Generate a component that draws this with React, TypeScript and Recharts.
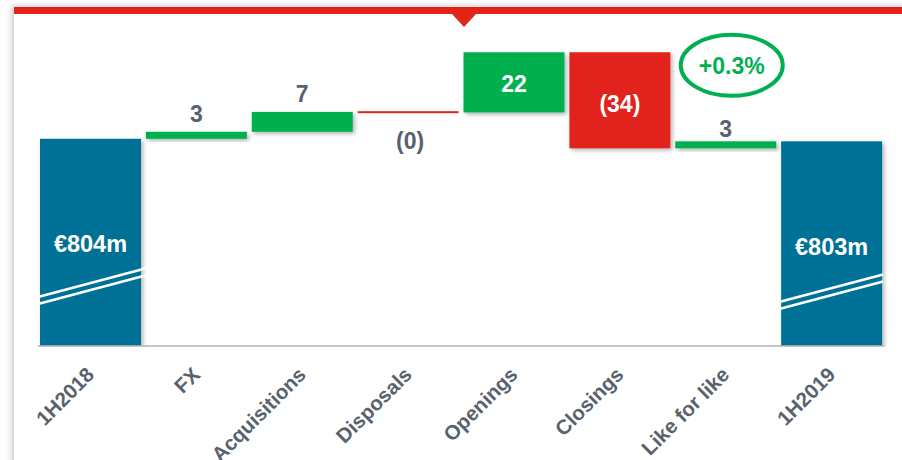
import React from 'react';
import { BarChart, Bar, XAxis, YAxis } from 'recharts';

// ---- data ----
const categories = ['1H2018', 'FX', 'Acquisitions', 'Disposals', 'Openings', 'Closings', 'Like for like', '1H2019'];
const startTotal = 804;
const changes = [2.5, 7.1, -0.2, 21.5, -34.3, 2.5];
const endTotal = 803.1;
const valueLabels = ['€804m', '3', '7', '(0)', '22', '(34)', '3', '€803m'];
const growthLabel = '+0.3%';
const axisFloor = 730;
const axisCeil = 850;

// ---- build waterfall rows ----
type Row = { name: string; range: [number, number]; kind: 'total' | 'up' | 'down'; label: string };
const rows: Row[] = [];
rows.push({ name: categories[0], range: [axisFloor, startTotal], kind: 'total', label: valueLabels[0] });
let running = startTotal;
changes.forEach((c, i) => {
  const next = running + c;
  rows.push({
    name: categories[i + 1],
    range: [Math.min(running, next), Math.max(running, next)],
    kind: c >= 0 ? 'up' : 'down',
    label: valueLabels[i + 1],
  });
  running = next;
});
rows.push({ name: categories[7], range: [axisFloor, endTotal], kind: 'total', label: valueLabels[7] });

// ---- styles ----
const BLUE = '#037196';
const GREEN = '#00b050';
const RED = '#e2231a';
const GREY_TEXT = '#59626c';
const FONT = '"Liberation Sans", Arial, sans-serif';

const WaterfallBar = (props: any) => {
  const { x, y, width, height, index, payload } = props;
  const top = Math.min(y, y + height);
  let h = Math.abs(height);
  const kind = payload.kind;
  const fill = kind === 'total' ? BLUE : kind === 'up' ? GREEN : RED;
  const cx = x + width / 2;
  const bottom = top + h;
  let rectTop = top;
  if (h < 2) {
    rectTop = top + h / 2 - 1;
    h = 2;
  }
  const els: React.ReactNode[] = [];
  els.push(
    <rect key="r" x={x} y={rectTop} width={width} height={h} fill={fill}
      filter={index === 3 ? undefined : 'url(#barShadow)'} />
  );
  const txt = (key: string, tx: number, ty: number, s: string, color: string, size = 23) => (
    <text key={key} x={tx} y={ty} textAnchor="middle" fill={color} fontSize={size}
      fontWeight="bold" fontFamily={FONT}>{s}</text>
  );
  if (kind === 'total') {
    const first = index === 0;
    const x0 = x - 2;
    const x1 = first ? x + width + 9 : x + width + 1;
    const u0 = bottom - (first ? 49 : 44);
    const slope = 0.265;
    const u1 = u0 - (x1 - x0) * slope;
    els.push(<line key="b1" x1={x0} y1={u0} x2={x1} y2={u1} stroke="#fff" strokeWidth={2.5} />);
    els.push(<line key="b2" x1={x0} y1={u0 + 7} x2={x1} y2={u1 + 7} stroke="#fff" strokeWidth={2.5} />);
    els.push(txt('t', cx, first ? 251.5 : 254.5, payload.label, '#fff', 23.5));
  } else if (index === 3) {
    els.push(txt('t', cx + 2, bottom + 36.5, payload.label, GREY_TEXT));
  } else if (index === 4 || index === 5) {
    const mid = (top + bottom) / 2;
    els.push(txt('t', cx, mid + (index === 4 ? 9.5 : 11.5), payload.label, '#fff'));
  } else {
    const gap = index === 6 ? 4.5 : 10;
    els.push(txt('t', cx, top - gap, payload.label, GREY_TEXT));
  }
  if (index === 6) {
    const ex = cx + 6;
    const ey = top - 76;
    els.push(<ellipse key="e" cx={ex} cy={ey} rx={51} ry={30.5} fill="none" stroke={GREEN} strokeWidth={4} />);
    els.push(txt('g', ex, ey + 8.5, growthLabel, GREEN, 23));
  }
  return <g>{els}</g>;
};

const Tick = (props: any) => {
  const { x, y, payload } = props;
  const ax = x + 4.5;
  const ay = y + 30;
  return (
    <text x={ax} y={ay} textAnchor="end" transform={`rotate(-45 ${ax} ${ay})`}
      fill={GREY_TEXT} fontSize={20.5} fontWeight="bold" fontFamily={FONT}>
      {payload.value}
    </text>
  );
};

export default function App() {
  return (
    <div style={{ position: 'absolute', left: 0, top: 0, width: 902, height: 460, overflow: 'hidden', background: '#fff', fontFamily: FONT }}>
      <div style={{
        position: 'absolute', left: 14, top: 7, width: 900, height: 470, background: '#fff',
        borderTop: `7px solid ${RED}`, boxShadow: '-2px -1px 6px rgba(0,0,0,0.22)',
      }} />
      <svg width={902} height={40} style={{ position: 'absolute', left: 0, top: 0 }}>
        <defs>
          <filter id="barShadow" x="-10%" y="-20%" width="130%" height="160%">
            <feDropShadow dx="2" dy="2" stdDeviation="2" floodColor="#000" floodOpacity="0.3" />
          </filter>
        </defs>
        <polygon points="452,14 476,14 464,27" fill={RED} />
      </svg>
      <div style={{ position: 'absolute', left: 0, top: 0 }}>
        <BarChart width={902} height={460} data={rows} margin={{ top: 10, right: 17, bottom: 14, left: 38 }}>
          <XAxis dataKey="name" height={100} interval={0} tickLine={false} tickSize={0} tickMargin={0}
            axisLine={{ stroke: '#b4b4b4', strokeWidth: 1.5 }} tick={<Tick />} />
          <YAxis hide width={0} domain={[axisFloor, axisCeil]} allowDataOverflow />
          <Bar dataKey="range" barSize={101} isAnimationActive={false} shape={<WaterfallBar />} />
        </BarChart>
      </div>
    </div>
  );
}
